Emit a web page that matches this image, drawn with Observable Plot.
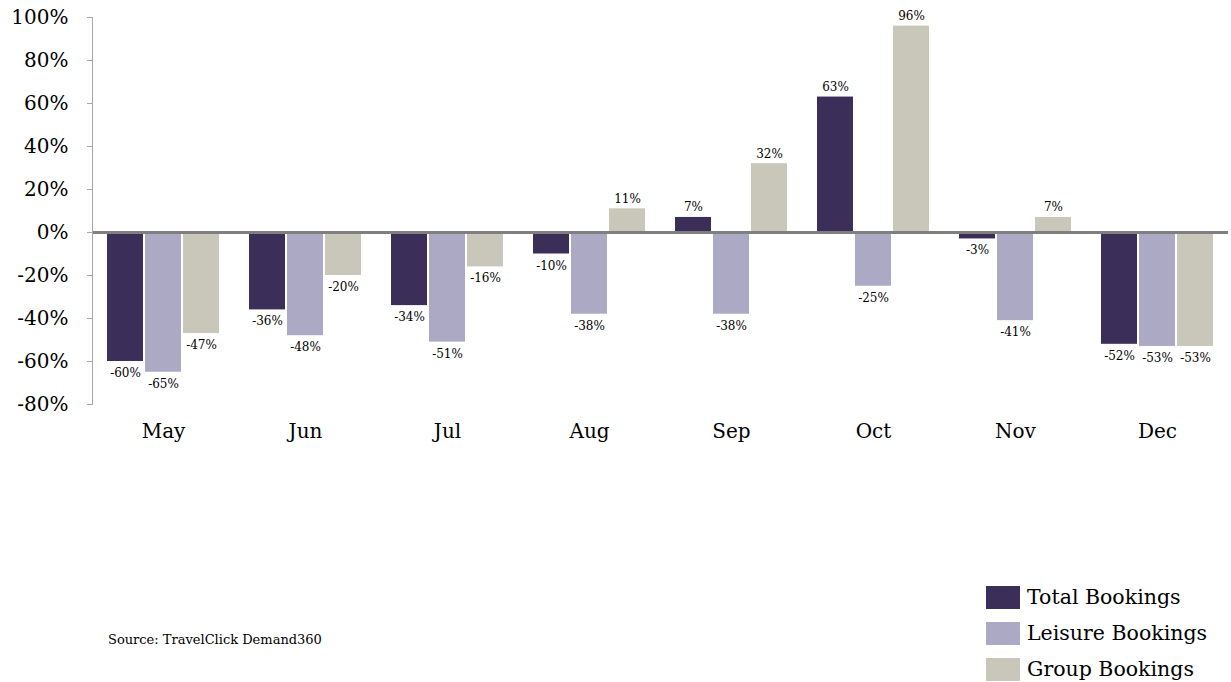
<!DOCTYPE html>
<html>
<head>
<meta charset="utf-8">
<script src="https://cdn.jsdelivr.net/npm/d3@7"></script>
<script src="https://cdn.jsdelivr.net/npm/@observablehq/plot@0.6"></script>
<style>
  html, body { margin: 0; padding: 0; background: #fff; }
  #wrap { position: relative; width: 1231px; height: 682px; font-family: "DejaVu Serif", Georgia, serif; color: #000; }
  #legend { position: absolute; left: 986px; top: 579px; }
  .row { display: flex; align-items: center; height: 36px; }
  .sw { width: 34px; height: 23px; margin-right: 7px; }
  .lt { font-size: 20.5px; }
  #source { position: absolute; left: 108px; top: 632px; font-size: 13px; }
</style>
</head>
<body>
<div id="wrap">
  <div id="chart"></div>
  <div id="source"></div>
  <div id="legend"></div>
</div>
<script>
const months = ["May", "Jun", "Jul", "Aug", "Sep", "Oct", "Nov", "Dec"];
const seriesNames = ["Total Bookings", "Leisure Bookings", "Group Bookings"];
const seriesColors = ["#3b2f59", "#aca9c4", "#c8c7b9"];
const totalValues = [-60, -36, -34, -10, 7, 63, -3, -52];
const leisureValues = [-65, -48, -51, -38, -38, -25, -41, -53];
const groupValues = [-47, -20, -16, 11, 32, 96, 7, -53];
const yTicks = [-80, -60, -40, -20, 0, 20, 40, 60, 80, 100];
const sourceText = "Source: TravelClick Demand360";

const seriesValues = [totalValues, leisureValues, groupValues];
const data = [];
months.forEach((m, i) => {
  seriesNames.forEach((s, j) => {
    data.push({month: m, series: s, value: seriesValues[j][i]});
  });
});

const fmt = d => d + "%";

const chart = Plot.plot({
  width: 1231,
  height: 450,
  marginLeft: 91,
  marginRight: 2,
  marginTop: 17,
  marginBottom: 46,
  style: {fontFamily: "'DejaVu Serif', Georgia, serif", background: "#fff", color: "#000"},
  fx: {domain: months, padding: 0, label: null, axis: null},
  x: {domain: seriesNames, paddingInner: 0.05, paddingOuter: 0.39, axis: null},
  y: {domain: [-80, 100], label: null},
  color: {domain: seriesNames, range: seriesColors},
  marks: [
    Plot.barY(data, {fx: "month", x: "series", y: "value", fill: "series"}),
    Plot.ruleY([0], {stroke: "#7f7f7f", strokeWidth: 3}),
    Plot.text(data.filter(d => d.value >= 0), {fx: "month", x: "series", y: "value", text: d => fmt(d.value), lineAnchor: "bottom", dy: -6, fontSize: 12, fill: "#000"}),
    Plot.text(data.filter(d => d.value < 0), {fx: "month", x: "series", y: "value", text: d => fmt(d.value), lineAnchor: "top", dy: 7, fontSize: 12, fill: "#000"}),
    Plot.frame({anchor: "left", facetAnchor: "left", stroke: "#a6a6a6"}),
    Plot.axisY({ticks: yTicks, tickFormat: fmt, tickSize: 5, tickPadding: 19, stroke: "#a6a6a6", fontSize: 20, label: null, facetAnchor: "left"}),
    Plot.axisFx({anchor: "bottom", tickSize: 0, tickPadding: 19, fontSize: 20, label: null})
  ]
});
document.getElementById("chart").appendChild(chart);

document.getElementById("source").textContent = sourceText;
const legend = document.getElementById("legend");
seriesNames.forEach((s, i) => {
  const row = document.createElement("div");
  row.className = "row";
  const sw = document.createElement("div");
  sw.className = "sw";
  sw.style.background = seriesColors[i];
  const lt = document.createElement("span");
  lt.className = "lt";
  lt.textContent = s;
  row.appendChild(sw);
  row.appendChild(lt);
  legend.appendChild(row);
});
</script>
</body>
</html>
